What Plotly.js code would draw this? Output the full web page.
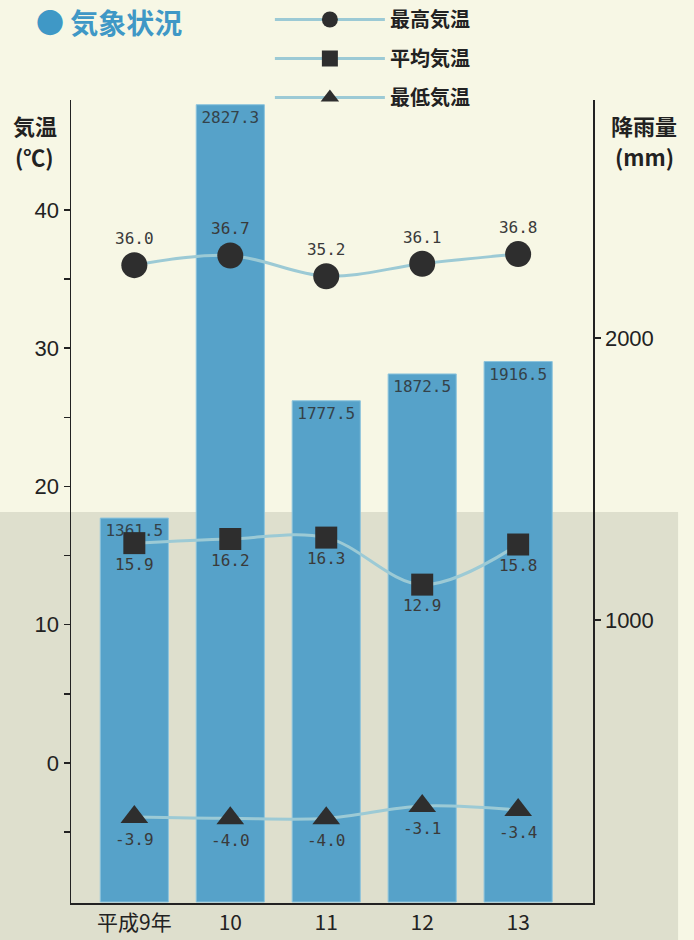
<!DOCTYPE html>
<html>
<head>
<meta charset="utf-8">
<script src="https://cdn.plot.ly/plotly-3.0.1.min.js"></script>
<style>
html,body{margin:0;padding:0;background:#f7f7e5;}
#chart{width:694px;height:940px;}
</style>
</head>
<body>
<div id="chart"></div>
<script>
// ---- data ----
const years = ['平成9年', '10', '11', '12', '13'];
const rainfall = [1361.5, 2827.3, 1777.5, 1872.5, 1916.5];
const tempMax = [36.0, 36.7, 35.2, 36.1, 36.8];
const tempAvg = [15.9, 16.2, 16.3, 12.9, 15.8];
const tempMin = [-3.9, -4.0, -4.0, -3.1, -3.4];
const seriesNames = ['最高気温', '平均気温', '最低気温'];
const tempTicks = [0, 10, 20, 30, 40];
const tempMinorTicks = [-5, 5, 15, 25, 35];
const rainTicks = [1000, 2000];

const numFont = 'Liberation Sans, Arial, sans-serif';
const jpFont = 'Noto Sans CJK JP, sans-serif';
const labelFont = {family: 'DejaVu Sans Mono, monospace', size: 16, color: '#3a3a3a'};
const lineStyle = {color: '#9ccad5', width: 3, shape: 'spline', smoothing: 1};
const markColor = '#2e2e2e';

const bars = {
  type: 'bar', x: years, y: rainfall, yaxis: 'y',
  marker: {color: '#56a2c9', line: {color: '#8cc4dd', width: 1}},
  text: rainfall.map(v => v.toFixed(1)),
  textposition: 'inside', insidetextanchor: 'end', constraintext: 'none',
  textfont: {family: 'DejaVu Sans Mono, monospace', size: 16, color: '#34424a'},
  showlegend: false, hoverinfo: 'skip'
};

function tempTrace(vals, name, symbol, size, pos, group) {
  return {
    type: 'scatter', mode: 'lines+markers+text', x: years, y: vals, yaxis: 'y2',
    name: name, legendgroup: group,
    line: lineStyle,
    marker: {symbol: symbol, size: size, color: markColor},
    text: vals.map(v => v.toFixed(1)), textposition: pos, textfont: labelFont,
    cliponaxis: false
  };
}

const traces = [
  bars,
  tempTrace(tempMax, seriesNames[0], 'circle', 26, 'top center', 'g1'),
  tempTrace(tempAvg, seriesNames[1], 'square', 22, 'bottom center', 'g2'),
  tempTrace(tempMin, seriesNames[2], 'triangle-up', 24, 'bottom center', 'g3')
];

const axisCommon = {
  showline: true, linecolor: '#222', linewidth: 1.5,
  ticks: 'outside', ticklen: 6, tickwidth: 1.5, tickcolor: '#222',
  showgrid: false, zeroline: false, fixedrange: true, automargin: false,
  tickfont: {family: numFont, size: 22, color: '#222'}
};

const titleFont = {family: jpFont, size: 22, color: '#222', weight: 700};
function axisLabel(text, x, y) {
  return {text: text, xref: 'paper', yref: 'paper', x: x, y: y,
          xanchor: 'center', yanchor: 'middle', showarrow: false, font: titleFont};
}

const layout = {
  width: 694, height: 940,
  margin: {l: 71, r: 101, t: 100, b: 37, autoexpand: false},
  paper_bgcolor: '#f7f7e5', plot_bgcolor: 'rgba(0,0,0,0)',
  bargap: 0.29,
  xaxis: {
    type: 'category', range: [-0.66, 4.78],
    showline: true, linecolor: '#222', linewidth: 1.5, ticks: '',
    showgrid: false, zeroline: false, fixedrange: true, automargin: false,
    tickfont: {family: jpFont, size: 21, color: '#222'}
  },
  yaxis: Object.assign({}, axisCommon, {
    side: 'right', range: [-3.5, 2844], tickmode: 'array', tickvals: rainTicks
  }),
  yaxis2: Object.assign({}, axisCommon, {
    side: 'left', overlaying: 'y', range: [-10.12, 47.94],
    tickmode: 'array', tickvals: tempTicks,
    minor: {tickmode: 'array', tickvals: tempMinorTicks, ticks: 'outside',
            ticklen: 6, tickwidth: 1.5, tickcolor: '#222'}
  }),
  legend: {
    x: 0.381, xanchor: 'left', y: 1, yref: 'container', yanchor: 'top',
    bgcolor: 'rgba(0,0,0,0)', itemwidth: 110, tracegroupgap: 10,
    font: {family: jpFont, size: 20, color: '#222', weight: 700},
    itemclick: false, itemdoubleclick: false
  },
  shapes: [{
    type: 'rect', xref: 'paper', yref: 'paper', layer: 'below',
    x0: -0.14, x1: 1.163, y0: 0.487, y1: -0.06,
    fillcolor: '#dedfcd', line: {width: 0}
  }],
  annotations: [
    axisLabel('気温', -0.069, 0.969),
    axisLabel('(℃)', -0.069, 0.930),
    axisLabel('降雨量', 1.098, 0.969),
    axisLabel('(mm)', 1.098, 0.930),
    {text: '● 気象状況', xref: 'paper', yref: 'paper', x: -0.07, y: 1.097,
     xanchor: 'left', yanchor: 'middle', showarrow: false,
     font: {family: jpFont, size: 28, color: '#3f98c6', weight: 700}}
  ]
};

Plotly.newPlot('chart', traces, layout, {displayModeBar: false, staticPlot: true});
</script>
</body>
</html>
